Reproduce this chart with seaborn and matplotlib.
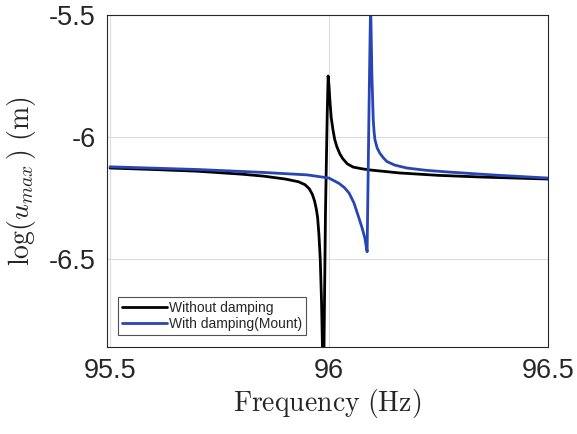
import matplotlib
matplotlib.use("Agg")
import matplotlib.pyplot as plt
import seaborn as sns
import pandas as pd

freq_black = [95.5, 95.6, 95.7, 95.8, 95.85, 95.9, 95.93, 95.945, 95.955, 95.962, 95.967,
              95.971, 95.974, 95.977, 95.98, 95.983, 95.986, 95.988, 95.992, 95.996,
              95.998, 96.0, 96.002, 96.005, 96.009, 96.013, 96.018, 96.025, 96.032,
              96.042, 96.055, 96.075, 96.094, 96.16, 96.25, 96.35, 96.5]
val_black = [-6.127, -6.133, -6.140, -6.152, -6.160, -6.172, -6.183, -6.195, -6.212, -6.235, -6.262,
             -6.295, -6.33, -6.40, -6.50, -6.68, -6.95, -6.95, -6.30, -5.90,
             -5.75, -5.79, -5.85, -5.92, -5.97, -6.01, -6.04, -6.07, -6.09,
             -6.11, -6.123, -6.13, -6.135, -6.147, -6.157, -6.164, -6.172]

freq_blue = [95.5, 95.7, 95.85, 95.95, 96.0, 96.023, 96.035, 96.046, 96.057, 96.068, 96.076,
             96.082, 96.087, 96.089, 96.092, 96.095, 96.098, 96.101, 96.103, 96.105, 96.11,
             96.116, 96.124, 96.132, 96.15, 96.178, 96.22, 96.27, 96.38, 96.5]
val_blue = [-6.122, -6.133, -6.145, -6.155, -6.168, -6.19, -6.207, -6.23, -6.27, -6.33, -6.375,
            -6.415, -6.47, -6.20, -5.80, -5.45, -5.75, -5.93, -5.98, -6.012, -6.045,
            -6.066, -6.085, -6.10, -6.115, -6.127, -6.136, -6.143, -6.156, -6.168]

labels = ["Without damping", "With damping(Mount)"]
x_ticks = [95.5, 96, 96.5]
x_ticklabels = ["95.5", "96", "96.5"]
y_ticks = [-6.5, -6, -5.5]
y_ticklabels = ["-6.5", "-6", "-5.5"]

df = pd.concat([
    pd.DataFrame({"f": freq_black, "v": val_black, "s": labels[0]}),
    pd.DataFrame({"f": freq_blue, "v": val_blue, "s": labels[1]}),
])

sns.set_style("white")
plt.rcParams["font.family"] = ["Liberation Sans", "DejaVu Sans"]
plt.rcParams["mathtext.fontset"] = "cm"

fig = plt.figure(figsize=(5.77, 4.34), dpi=100)
ax = fig.add_axes([0.1854, 0.2005, 0.7643, 0.7650])

sns.lineplot(data=df, x="f", y="v", hue="s", palette=["#000000", "#2745b5"],
             linewidth=2.0, ax=ax, sort=False, estimator=None)

ax.set_xlim(95.493, 96.5)
ax.set_ylim(-6.86, -5.5)
ax.set_xticks(x_ticks)
ax.set_xticklabels(x_ticklabels, fontsize=19.5, color="#262626")
ax.set_yticks(y_ticks)
ax.set_yticklabels(y_ticklabels, fontsize=19.5, color="#262626")
ax.grid(True, color="#dcdcdc", linewidth=0.8)
ax.set_axisbelow(True)
ax.tick_params(direction="in", length=4, width=0.6, color="#262626", pad=8)
for sp in ax.spines.values():
    sp.set_color("#262626")
    sp.set_linewidth(0.8)

ax.set_xlabel(r"$\mathrm{Frequency\ (Hz)}$", fontsize=20, color="#262626", labelpad=2)
ax.set_ylabel(r"$\log(u_{max}\,)\ (\mathrm{m})$", fontsize=20, color="#262626", labelpad=8)

leg = ax.legend(loc="lower left", fontsize=10, frameon=True, fancybox=False,
                edgecolor="#262626", handlelength=3.2, handletextpad=0.15,
                borderpad=0.3, labelspacing=0.15, borderaxespad=0.0,
                bbox_to_anchor=(0.025, 0.035))
leg.get_frame().set_linewidth(0.8)
for line in leg.get_lines():
    line.set_linewidth(2.0)

fig.savefig("out.png", dpi=100)
